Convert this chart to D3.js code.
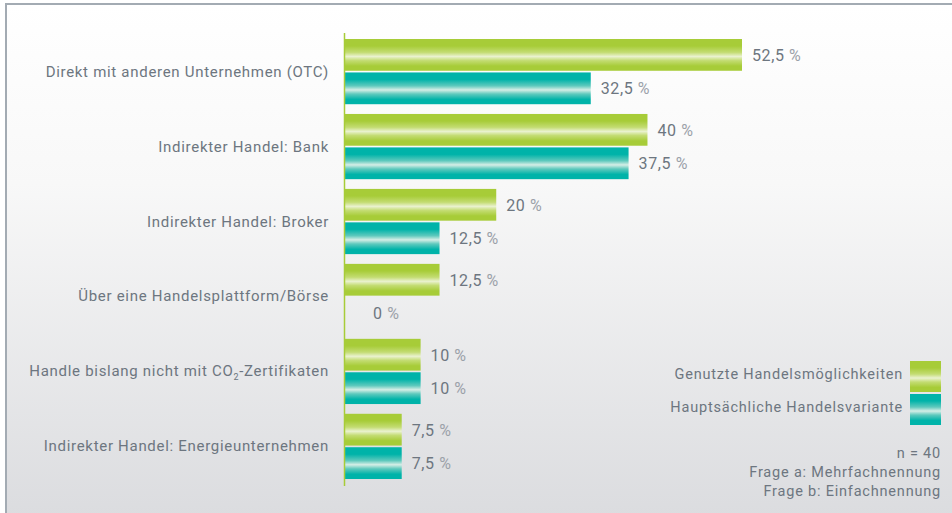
<!DOCTYPE html>
<meta charset="utf-8">
<style>
body { margin: 0; }
svg text { font-family: Roboto, "DejaVu Sans", sans-serif; fill: #6d7680; }
.cat { font-size: 15px; letter-spacing: 0.7px; }
.val { font-size: 16px; letter-spacing: 0.6px; }
.pct { fill: #9ba1a9; }
.note { font-size: 14.5px; letter-spacing: 0.8px; }
</style>
<body>
<div id="chart"></div>
<script src="https://cdn.jsdelivr.net/npm/d3@7"></script>
<script>

// categories, top to bottom
var categories = [
  "Direkt mit anderen Unternehmen (OTC)",
  "Indirekter Handel: Bank",
  "Indirekter Handel: Broker",
  "Über eine Handelsplattform/Börse",
  "Handle bislang nicht mit CO2-Zertifikaten",
  "Indirekter Handel: Energieunternehmen"
];
var seriesNames = ["Genutzte Handelsmöglichkeiten", "Hauptsächliche Handelsvariante"];
var genutzt = [52.5, 40, 20, 12.5, 10, 7.5];
var hauptsaechlich = [32.5, 37.5, 12.5, 0, 10, 7.5];
var notes = ["n = 40", "Frage a: Mehrfachnennung", "Frage b: Einfachnennung"];

var width = 952, height = 513;

var svg = d3.select("#chart").append("svg")
  .attr("width", width)
  .attr("height", height);

var defs = svg.append("defs");

var bg = defs.append("linearGradient").attr("id", "bg")
  .attr("x1", 0).attr("y1", 0).attr("x2", 0).attr("y2", 1);
bg.append("stop").attr("offset", "0%").attr("stop-color", "#ffffff");
bg.append("stop").attr("offset", "35%").attr("stop-color", "#f8f8f8");
bg.append("stop").attr("offset", "100%").attr("stop-color", "#dbdcdf");

// glossy bar fills
function glossy(id, base, mid, light) {
  var g = defs.append("linearGradient").attr("id", id)
    .attr("x1", 0).attr("y1", 0).attr("x2", 0).attr("y2", 1);
  [[0, base], [0.22, base], [0.42, mid], [0.55, light], [0.68, mid], [0.85, base], [1, base]]
    .forEach(function(s) {
      g.append("stop").attr("offset", s[0]).attr("stop-color", s[1]);
    });
}
glossy("gGreen", "#a7cc38", "#c3dc72", "#eaf2cf");
glossy("gTeal", "#00b3a9", "#5ec9bd", "#d5eee6");
var fills = ["url(#gGreen)", "url(#gTeal)"];

svg.append("rect")
  .attr("x", 6).attr("y", 4)
  .attr("width", width).attr("height", height)
  .attr("fill", "url(#bg)")
  .attr("stroke", "#a3abb3")
  .attr("stroke-width", 2);

var x0 = 345;
var xScale = d3.scaleLinear().domain([0, 52.5]).range([x0, 742]);

var yScale = d3.scaleBand()
  .domain(categories)
  .range([39, 479])
  .paddingInner(0.13)
  .paddingOuter(0);

var ySub = d3.scaleBand()
  .domain([0, 1])
  .range([0, yScale.bandwidth()])
  .paddingInner(0.05);

var rows = categories.map(function(c, i) {
  return { cat: c, vals: [genutzt[i], hauptsaechlich[i]] };
});

var group = svg.selectAll(".grp")
  .data(rows)
  .enter().append("g")
  .attr("class", "grp")
  .attr("transform", function(d) { return "translate(0," + yScale(d.cat) + ")"; });

group.selectAll("rect")
  .data(function(d) { return d.vals; })
  .enter().append("rect")
  .attr("x", x0)
  .attr("y", function(d, i) { return ySub(i); })
  .attr("height", ySub.bandwidth())
  .attr("width", function(d) { return xScale(d) - x0; })
  .attr("fill", function(d, i) { return fills[i]; });

// value labels (a zero bar gets its label pushed a bit off the axis)
var val = group.selectAll(".val")
  .data(function(d) { return d.vals; })
  .enter().append("text")
  .attr("class", "val")
  .attr("x", function(d) { return d > 0 ? xScale(d) + 10 : x0 + 28; })
  .attr("y", function(d, i) { return ySub(i) + ySub.bandwidth() / 2 + 6; });
val.append("tspan").text(function(d) { return String(d).replace(".", ","); });
val.append("tspan").attr("class", "pct").text(" %");

// category labels
var cat = group.append("text")
  .attr("class", "cat")
  .attr("x", 329)
  .attr("y", yScale.bandwidth() / 2 + 5)
  .attr("text-anchor", "end");
cat.each(function(d) {
  var t = d3.select(this);
  if (d.cat.indexOf("CO2") >= 0) {
    var parts = d.cat.split("CO2");
    t.append("tspan").text(parts[0] + "CO");
    t.append("tspan").attr("dy", 4).style("font-size", "9px").text("2");
    t.append("tspan").attr("dy", -4).text(parts[1]);
  } else {
    t.text(d.cat);
  }
});

// axis line
svg.append("line")
  .attr("x1", 344.5).attr("x2", 344.5)
  .attr("y1", 33).attr("y2", 486)
  .attr("stroke", "#a7cc38")
  .attr("stroke-width", 1.5);

// legend
var legend = svg.selectAll(".leg")
  .data(seriesNames)
  .enter().append("g")
  .attr("class", "leg")
  .attr("transform", function(d, i) { return "translate(910," + (361 + i * 33) + ")"; });
legend.append("rect")
  .attr("width", 31).attr("height", 31)
  .attr("fill", function(d, i) { return fills[i]; });
legend.append("text")
  .attr("class", "note")
  .attr("x", -7).attr("y", 18)
  .attr("text-anchor", "end")
  .text(function(d) { return d; });

svg.selectAll(".nt")
  .data(notes)
  .enter().append("text")
  .attr("class", "note")
  .attr("x", 941)
  .attr("y", function(d, i) { return 458 + i * 19; })
  .attr("text-anchor", "end")
  .text(function(d) { return d; });

</script>
</body>
